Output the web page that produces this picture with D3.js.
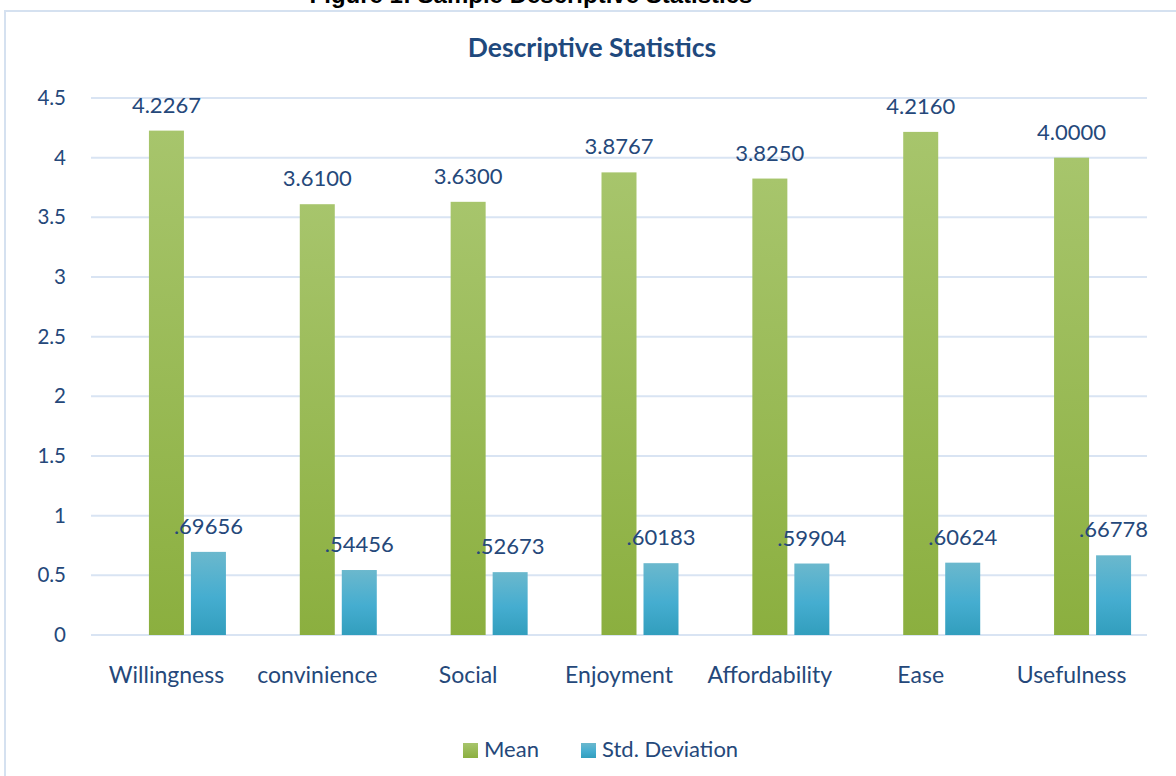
<!DOCTYPE html>
<html>
<head>
<meta charset="utf-8">
<script src="https://cdn.jsdelivr.net/npm/d3@7"></script>
<style>
  body { margin: 0; background: #fff; }
  svg text { font-family: Lato, "Open Sans", sans-serif; }
</style>
</head>
<body>
<div id="chart"></div>
<script>
const categories = ["Willingness", "convinience", "Social", "Enjoyment", "Affordability", "Ease", "Usefulness"];
const meanValues = [4.2267, 3.6100, 3.6300, 3.8767, 3.8250, 4.2160, 4.0000];
const meanLabels = ["4.2267", "3.6100", "3.6300", "3.8767", "3.8250", "4.2160", "4.0000"];
const sdValues = [0.69656, 0.54456, 0.52673, 0.60183, 0.59904, 0.60624, 0.66778];
const sdLabels = [".69656", ".54456", ".52673", ".60183", ".59904", ".60624", ".66778"];
const yTicks = [0, 0.5, 1, 1.5, 2, 2.5, 3, 3.5, 4, 4.5];
const seriesNames = ["Mean", "Std. Deviation"];

const width = 1176, height = 776;
const textColor = "#25487a";
const gridColor = "#d9e4f3";

const svg = d3.select("#chart").append("svg")
    .attr("width", width)
    .attr("height", height);

// gradients for the bars
const defs = svg.append("defs");
const gMean = defs.append("linearGradient").attr("id", "gMean")
    .attr("x1", 0).attr("y1", 0).attr("x2", 0).attr("y2", 1);
gMean.append("stop").attr("offset", "0%").attr("stop-color", "#a7c56c");
gMean.append("stop").attr("offset", "100%").attr("stop-color", "#8baf3f");
const gSd = defs.append("linearGradient").attr("id", "gSd")
    .attr("x1", 0).attr("y1", 0).attr("x2", 0).attr("y2", 1);
gSd.append("stop").attr("offset", "0%").attr("stop-color", "#6bb8cd");
gSd.append("stop").attr("offset", "55%").attr("stop-color", "#45add0");
gSd.append("stop").attr("offset", "100%").attr("stop-color", "#329ebd");

// chart area border (runs off the page right and bottom)
svg.append("rect")
    .attr("x", 5).attr("y", 11)
    .attr("width", 1200).attr("height", 800)
    .attr("fill", "none")
    .attr("stroke", "#d5e1f0")
    .attr("stroke-width", 2);

// document caption, mostly cut off at the top like in the source page
svg.append("text")
    .attr("x", 531).attr("y", 3)
    .attr("text-anchor", "middle")
    .style("font-family", "'Liberation Sans', Arial, sans-serif")
    .style("font-weight", "bold")
    .style("font-size", "24px")
    .attr("fill", "#000")
    .text("Figure 1: Sample Descriptive Statistics");

// title
svg.append("text")
    .attr("x", 592).attr("y", 57)
    .attr("text-anchor", "middle")
    .style("font-weight", "bold")
    .style("font-size", "26.5px")
    .attr("fill", "#1f497d")
    .text("Descriptive Statistics");

const x = d3.scaleBand()
    .domain(categories)
    .range([91, 1147])
    .padding(0);

const y = d3.scaleLinear()
    .domain([0, 4.5])
    .range([635, 98]);

const barW = 35, gap = 7;

// gridlines
svg.append("g")
    .selectAll("line")
    .data(yTicks)
    .join("line")
    .attr("x1", 91).attr("x2", 1147)
    .attr("y1", d => y(d)).attr("y2", d => y(d))
    .attr("stroke", gridColor)
    .attr("stroke-width", 2);

// y axis labels
const yAxis = svg.append("g")
    .attr("transform", "translate(72,0)")
    .call(d3.axisLeft(y).tickValues(yTicks).tickSize(0).tickPadding(6).tickFormat(d => d));
yAxis.select(".domain").remove();
yAxis.selectAll("text")
    .style("font-size", "20.5px")
    .style("font-family", "Lato, 'Open Sans', sans-serif")
    .attr("fill", textColor);

// x axis labels
const xAxis = svg.append("g")
    .attr("transform", "translate(0,667)")
    .call(d3.axisBottom(x).tickSize(0).tickPadding(0));
xAxis.select(".domain").remove();
xAxis.selectAll("text")
    .style("font-size", "23px")
    .style("font-family", "Lato, 'Open Sans', sans-serif")
    .attr("fill", textColor);

const center = c => x(c) + x.bandwidth() / 2;

// mean bars
svg.append("g")
    .selectAll("rect")
    .data(categories)
    .join("rect")
    .attr("x", c => center(c) - barW / 2)
    .attr("y", (c, i) => y(meanValues[i]))
    .attr("width", barW)
    .attr("height", (c, i) => y(0) - y(meanValues[i]))
    .attr("fill", "url(#gMean)");

// std. deviation bars
svg.append("g")
    .selectAll("rect")
    .data(categories)
    .join("rect")
    .attr("x", c => center(c) + barW / 2 + gap)
    .attr("y", (c, i) => y(sdValues[i]))
    .attr("width", barW)
    .attr("height", (c, i) => y(0) - y(sdValues[i]))
    .attr("fill", "url(#gSd)");

// value labels
svg.append("g")
    .selectAll("text")
    .data(categories)
    .join("text")
    .attr("x", c => center(c))
    .attr("y", (c, i) => y(meanValues[i]) - 18)
    .attr("text-anchor", "middle")
    .style("font-size", "22px")
    .attr("fill", textColor)
    .text((c, i) => meanLabels[i]);

svg.append("g")
    .selectAll("text")
    .data(categories)
    .join("text")
    .attr("x", c => center(c) + barW + gap)
    .attr("y", (c, i) => y(sdValues[i]) - 18)
    .attr("text-anchor", "middle")
    .style("font-size", "22px")
    .attr("fill", textColor)
    .text((c, i) => sdLabels[i]);

// legend
const legendItems = [
    { name: seriesNames[0], fill: "url(#gMean)", x: 463 },
    { name: seriesNames[1], fill: "url(#gSd)", x: 581 }
];
const legend = svg.append("g");
legendItems.forEach(item => {
    legend.append("rect")
        .attr("x", item.x).attr("y", 743)
        .attr("width", 15).attr("height", 15)
        .attr("fill", item.fill);
    legend.append("text")
        .attr("x", item.x + 21).attr("y", 757)
        .style("font-size", "22px")
        .attr("fill", textColor)
        .text(item.name);
});
</script>
</body>
</html>
